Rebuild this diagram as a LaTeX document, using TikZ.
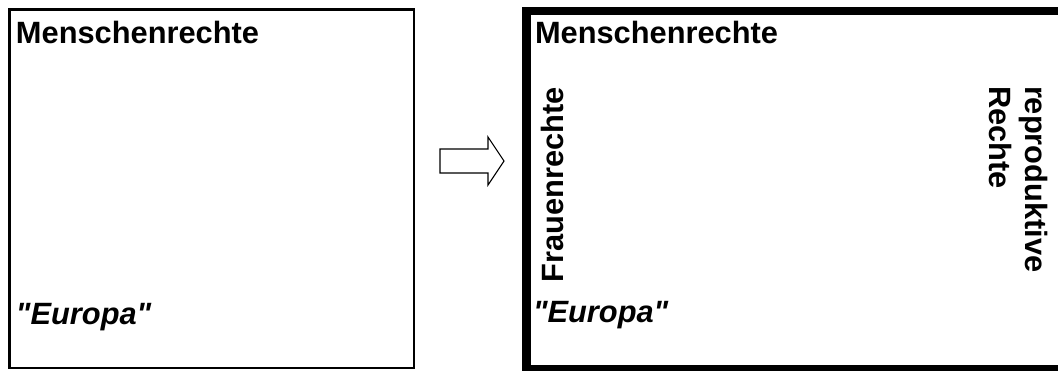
\documentclass[tikz,border=0pt]{standalone}
\usepackage{fontspec}
\newfontfamily\arialfont{Liberation Sans}
\begin{document}
\begin{tikzpicture}[x=1pt,y=-1pt,
  lbl/.style={font=\arialfont\fontsize{30.8}{36}\selectfont\bfseries, inner sep=0pt, outer sep=0pt},
  ital/.style={font=\arialfont\fontsize{30.8}{36}\selectfont\bfseries\itshape, inner sep=0pt, outer sep=0pt},
  thinbox/.style={draw, line width=2.5pt, inner sep=0pt, outer sep=0pt, anchor=north west},
  thickbox/.style={draw, line width=8.5pt, inner sep=0pt, outer sep=0pt, anchor=north west},
  blockarrow/.style={draw, line width=1.1pt, line join=miter, fill=white}]
\useasboundingbox (0,0) rectangle (1058,370);
\clip (0,0) rectangle (1058,370);
% boxes
\node[thinbox, minimum width=404.5pt, minimum height=358.5pt] (L) at (9.25,9.25) {};
\node[thickbox, minimum width=536.5pt, minimum height=358.5pt] (R) at (526.5,11) {};
% left box texts
\node[lbl, anchor=base west] (Lt) at (16,43) {Menschenrechte};
\node[ital, anchor=base west] (Le) at (16,324) {"Europa"};
% right box texts
\node[lbl, anchor=base west] (Rt) at (535,43) {Menschenrechte};
\node[ital, anchor=base west] (Re) at (533,322) {"Europa"};
\node[lbl, rotate=90, anchor=base west] (Fr) at (563,282) {Frauenrechte};
\node[lbl, rotate=-90, anchor=north west, align=left] (Rr) at (1048,86) {reproduktive\\Rechte};
% block arrow
\coordinate (a1) at (440,149);
\coordinate (a2) at (488,149);
\coordinate (a3) at (488,137);
\coordinate (tip) at (504,161);
\coordinate (a5) at (488,185);
\coordinate (a6) at (488,173);
\coordinate (a7) at (440,173);
\draw[blockarrow] (a1) -- (a2) -- (a3) -- (tip) -- (a5) -- (a6) -- (a7) -- cycle;
\end{tikzpicture}
\end{document}
